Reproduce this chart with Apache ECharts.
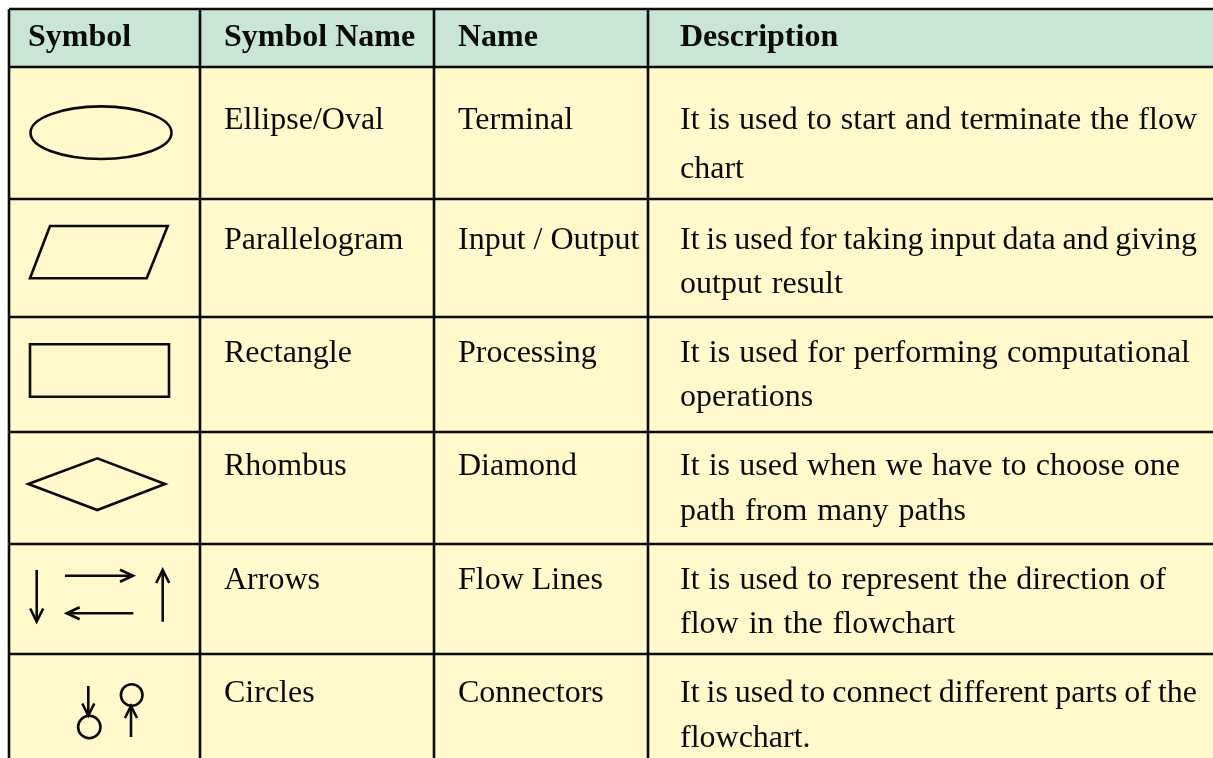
<!DOCTYPE html>
<html>
<head>
<meta charset="utf-8">
<script src="https://cdn.jsdelivr.net/npm/echarts@6/dist/echarts.min.js"></script>
<style>html,body{margin:0;padding:0;background:#fff}#c{width:1213px;height:758px}</style>
</head>
<body>
<div id="c"></div>
<script>
// ---- data ----
const headers = ['Symbol', 'Symbol Name', 'Name', 'Description'];
const symbolKinds = ['ellipse', 'parallelogram', 'rectangle', 'rhombus', 'arrows', 'circles'];
const symbolNames = ['Ellipse/Oval', 'Parallelogram', 'Rectangle', 'Rhombus', 'Arrows', 'Circles'];
const names = ['Terminal', 'Input / Output', 'Processing', 'Diamond', 'Flow Lines', 'Connectors'];
const descriptions = [
  ['It is used to start and terminate the flow', 'chart'],
  ['It is used for taking input data and giving', 'output result'],
  ['It is used for performing computational', 'operations'],
  ['It is used when we have to choose one', 'path from many paths'],
  ['It is used to represent the direction of', 'flow in the flowchart'],
  ['It is used to connect different parts of the', 'flowchart.']
];

// ---- layout (axis units = px) ----
const colEdges = [9, 200, 434, 648, 1240];
const rowEdges = [9, 67, 199, 317, 432, 544, 654, 800];
const textX = [28, 224, 458, 680];
const headerMid = 38;
const firstMid = [121, 241, 354, 467, 581, 694];
const lineGap = [49, 44, 44, 45, 44, 45];
const firstLineEnd = [1197, 1197, 1190, 1180, 1166, 1197];
const HEADER_BG = '#c9e5d5';
const BODY_BG = '#fff9cb';
const INK = '#0a0a0a';
const FONT = '32px "Liberation Serif", "Times New Roman", serif';
const BOLD = 'bold 32px "Liberation Serif", "Times New Roman", serif';

const mctx = document.createElement('canvas').getContext('2d');
function measure(t, f) { mctx.font = f; return mctx.measureText(t).width; }

function textEl(t, x, y, font) {
  return { type: 'text', x: x, y: y, style: { text: t, font: font, fill: INK, align: 'left', verticalAlign: 'middle' } };
}
function spacedLine(line, x, y, font, gap) {
  const out = [];
  line.split(' ').forEach(function (w) {
    out.push(textEl(w, x, y, font));
    x += measure(w, font) + gap;
  });
  return out;
}
function fitGap(line, x0, x1, font) {
  const words = line.split(' ');
  let sum = 0;
  words.forEach(function (w) { sum += measure(w, font); });
  return (x1 - x0 - sum) / Math.max(1, words.length - 1);
}

function symbolEls(kind, P) {
  const st = { stroke: INK, lineWidth: 2.6, fill: 'none' };
  const arrow = function (x1, y1, x2, y2, L, W) {
    const a = P(x1, y1), b = P(x2, y2);
    const dx = b[0] - a[0], dy = b[1] - a[1], len = Math.hypot(dx, dy);
    const ux = dx / len, uy = dy / len;
    const h1 = [b[0] - ux * L - uy * W, b[1] - uy * L + ux * W];
    const h2 = [b[0] - ux * L + uy * W, b[1] - uy * L - ux * W];
    return [
      { type: 'line', shape: { x1: a[0], y1: a[1], x2: b[0], y2: b[1] }, style: st },
      { type: 'polyline', shape: { points: [h1, b, h2] }, style: st }
    ];
  };
  if (kind === 'ellipse') {
    const c = P(101, 132.7);
    return [{ type: 'ellipse', shape: { cx: c[0], cy: c[1], rx: 70.5, ry: 26.3 }, style: st }];
  }
  if (kind === 'parallelogram') {
    return [{ type: 'polygon', shape: { points: [P(50, 226), P(167.7, 226), P(146.7, 278.3), P(30, 278.3)] }, style: st }];
  }
  if (kind === 'rectangle') {
    const a = P(30, 344.3), b = P(169, 396.7);
    return [{ type: 'rect', shape: { x: a[0], y: a[1], width: b[0] - a[0], height: b[1] - a[1] }, style: st }];
  }
  if (kind === 'rhombus') {
    return [{ type: 'polygon', shape: { points: [P(28.3, 484), P(97.3, 458.3), P(165, 484), P(97.3, 510)] }, style: st }];
  }
  if (kind === 'arrows') {
    return [].concat(
      arrow(36.7, 570, 36.7, 621.5, 13, 6.5),
      arrow(65, 575.7, 133, 575.7, 13, 6),
      arrow(133.3, 613.3, 66.7, 613.3, 13, 6),
      arrow(162.7, 621.7, 162.7, 570, 13, 6.5)
    );
  }
  if (kind === 'circles') {
    const c1 = P(89.3, 727), c2 = P(131.7, 695);
    return [].concat(
      arrow(88.3, 686, 88.3, 715.5, 12, 6),
      [{ type: 'circle', shape: { cx: c1[0], cy: c1[1], r: 11.2 }, style: st }],
      [{ type: 'circle', shape: { cx: c2[0], cy: c2[1], r: 10.8 }, style: st }],
      arrow(131, 737, 131, 706, 12, 6)
    );
  }
  return [];
}

function renderRow(params, api) {
  const r = api.value(0);
  const P = function (x, y) { return api.coord([x, y]); };
  const children = [];
  for (let c = 0; c < 4; c++) {
    const a = P(colEdges[c], rowEdges[r]), b = P(colEdges[c + 1], rowEdges[r + 1]);
    children.push({ type: 'rect', shape: { x: a[0], y: a[1], width: b[0] - a[0], height: b[1] - a[1] },
      style: { fill: r === 0 ? HEADER_BG : BODY_BG } });
  }
  if (r === 0) {
    headers.forEach(function (h, c) {
      const p = P(textX[c], headerMid);
      children.push(textEl(h, p[0], p[1], BOLD));
    });
  } else {
    const i = r - 1;
    const p1 = P(textX[1], firstMid[i]);
    children.push(textEl(symbolNames[i], p1[0], p1[1], FONT));
    const p2 = P(textX[2], firstMid[i]);
    children.push(textEl(names[i], p2[0], p2[1], FONT));
    const pa = P(textX[3], 0), pb = P(firstLineEnd[i], 0);
    const gap1 = fitGap(descriptions[i][0], pa[0], pb[0], FONT);
    descriptions[i].forEach(function (line, k) {
      const p = P(textX[3], firstMid[i] + k * lineGap[i]);
      const g = k === 0 ? gap1 : measure(' ', FONT) + 2;
      Array.prototype.push.apply(children, spacedLine(line, p[0], p[1], FONT, g));
    });
    Array.prototype.push.apply(children, symbolEls(symbolKinds[i], P));
  }
  return { type: 'group', children: children };
}

function renderBorder(params, api) {
  const kind = api.value(0), v = api.value(1);
  let a, b;
  if (kind === 0) { a = api.coord([colEdges[0], v]); b = api.coord([colEdges[colEdges.length - 1], v]); }
  else { a = api.coord([v, rowEdges[0]]); b = api.coord([v, rowEdges[rowEdges.length - 1]]); }
  return { type: 'line', shape: { x1: a[0], y1: a[1], x2: b[0], y2: b[1] }, style: { stroke: INK, lineWidth: 2.6 } };
}

const rowData = [];
for (let r = 0; r <= symbolNames.length; r++) rowData.push([r, r]);
const borderData = [];
rowEdges.slice(0, -1).forEach(function (y) { borderData.push([0, y]); });
colEdges.slice(0, -1).forEach(function (x) { borderData.push([1, x]); });

const chart = echarts.init(document.getElementById('c'), null, { renderer: 'canvas' });
chart.setOption({
  backgroundColor: '#ffffff',
  animation: false,
  grid: { left: 0, right: 0, top: 0, bottom: 0 },
  xAxis: { type: 'value', min: 0, max: 1213, show: false },
  yAxis: { type: 'value', min: 0, max: 758, inverse: true, show: false },
  series: [
    { type: 'custom', renderItem: renderRow, data: rowData, clip: true, z: 1, silent: true },
    { type: 'custom', renderItem: renderBorder, data: borderData, clip: true, z: 2, silent: true }
  ]
});
</script>
</body>
</html>
